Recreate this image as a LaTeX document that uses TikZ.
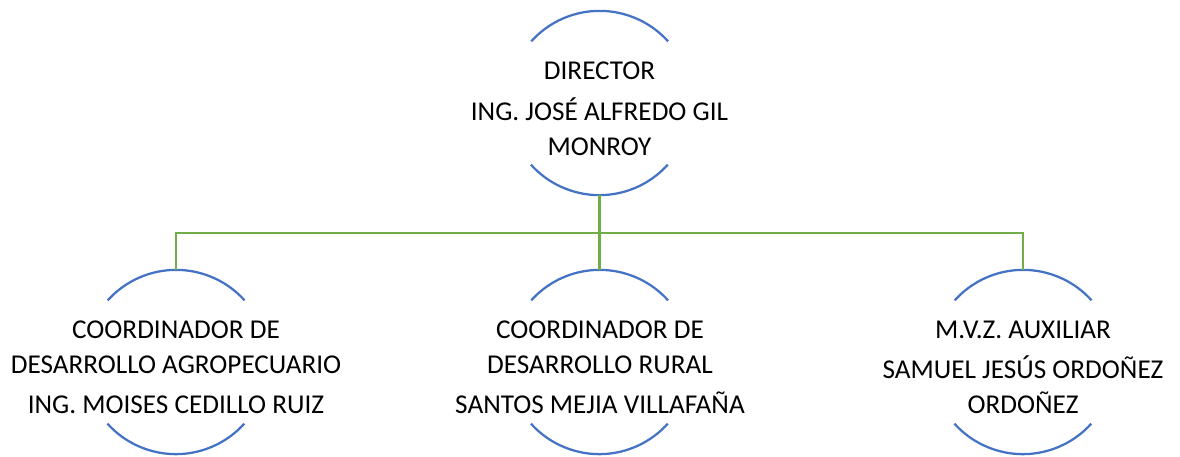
\documentclass[tikz,border=0pt]{standalone}
\usepackage{fontspec}
\setmainfont{Carlito}
\definecolor{arcblue}{HTML}{4472C4}
\definecolor{conngreen}{HTML}{70AD47}
\begin{document}
\begin{tikzpicture}[x=1pt,y=1pt,
  holder/.style={circle,minimum size=184pt,inner sep=0pt,draw=none},
  arcline/.style={draw=arcblue,line width=2.25pt},
  conn/.style={draw=conngreen,line width=2.25pt},
  lbl/.style={anchor=base,inner sep=0pt,font=\fontsize{27.2}{32}\selectfont,text=black}]
\useasboundingbox (0,0) rectangle (1180,-456);
% holders
\node[holder] (c0) at (599.5,-103) {};
\node[holder] (c1) at (176,-362) {};
\node[holder] (c2) at (599.5,-362) {};
\node[holder] (c3) at (1023,-362) {};
% arcs
\foreach \n in {c0,c1,c2,c3}{
  \draw[arcline] (\n.42) arc[start angle=42,end angle=138,radius=92pt];
  \draw[arcline] (\n.222) arc[start angle=222,end angle=318,radius=92pt];
}
% connectors
\coordinate (bus) at ([yshift=-38pt]c0.south);
\draw[conn] (c0.south) -- (c2.north);
\draw[conn] (c1.north) |- (bus) -| (c3.north);
% texts
\node[lbl] (t0a) at (599.5,-79) {DIRECTOR};
\node[lbl] (t0b) at (599.5,-120) {ING. JOSÉ ALFREDO GIL};
\node[lbl] (t0c) at (599.5,-155) {MONROY};
\node[lbl] (t1a) at (176,-338) {COORDINADOR DE};
\node[lbl] (t1b) at (176,-373) {DESARROLLO AGROPECUARIO};
\node[lbl] (t1c) at (176,-413) {ING. MOISES CEDILLO RUIZ};
\node[lbl] (t2a) at (600,-338) {COORDINADOR DE};
\node[lbl] (t2b) at (600,-373) {DESARROLLO RURAL};
\node[lbl] (t2c) at (600,-413) {SANTOS MEJIA VILLAFAÑA};
\node[lbl] (t3a) at (1023,-338) {M.V.Z. AUXILIAR};
\node[lbl] (t3b) at (1023,-378) {SAMUEL JESÚS ORDOÑEZ};
\node[lbl] (t3c) at (1023,-413) {ORDOÑEZ};
\end{tikzpicture}
\end{document}
